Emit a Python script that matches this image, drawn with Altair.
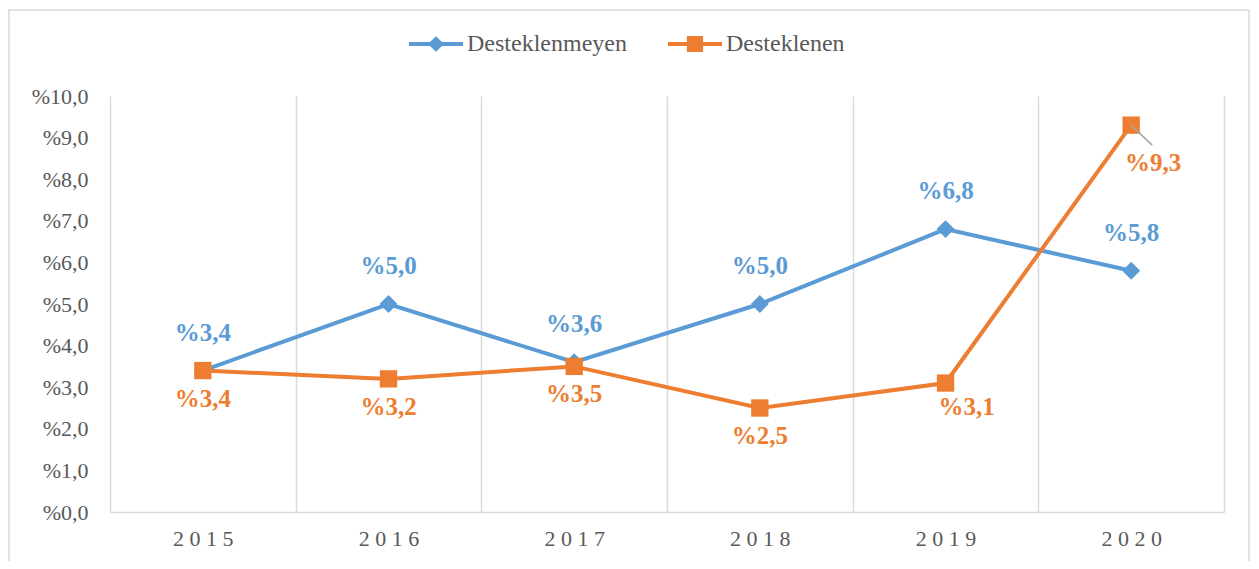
import altair as alt
import pandas as pd

years = ["2015", "2016", "2017", "2018", "2019", "2020"]
desteklenmeyen = [3.4, 5.0, 3.6, 5.0, 6.8, 5.8]
desteklenen = [3.4, 3.2, 3.5, 2.5, 3.1, 9.3]
series_names = ["Desteklenmeyen", "Desteklenen"]
colors = ["#5B9BD5", "#ED7D31"]
y_ticks = [0, 1, 2, 3, 4, 5, 6, 7, 8, 9, 10]

rows = []
for name, vals in zip(series_names, [desteklenmeyen, desteklenen]):
    for yr, v in zip(years, vals):
        rows.append({"year": yr, "value": v, "series": name})
df = pd.DataFrame(rows)

FONT = "Liberation Serif"
GRAY = "#595959"
GRID = "#D9D9D9"

P1 = "M-2.5,-0.18L2.5,-0.18L2.5,0.18L-2.5,0.18Z M0,-0.72L0.75,0L0,0.72L-0.75,0Z"
P2 = "M-2.5,-0.18L2.5,-0.18L2.5,0.18L-2.5,0.18Z M-0.75,-0.75L0.75,-0.75L0.75,0.75L-0.75,0.75Z"

legend_obj = alt.Legend(
    title=None, orient="none", legendX=314, legendY=-64, direction="horizontal",
    symbolSize=467, labelOffset=19, columnPadding=40,
    labelFont=FONT, labelFontSize=24, labelColor=GRAY,
    symbolStrokeWidth=0, symbolOpacity=1,
)

color = alt.Color("series:N", scale=alt.Scale(domain=series_names, range=colors), legend=legend_obj)

x = alt.X("year:O",
          scale=alt.Scale(type="band", paddingInner=0, paddingOuter=0),
          axis=alt.Axis(title=None, tickBand="extent", grid=True, gridColor=GRID, gridWidth=1.5,
                        ticks=False, domainColor=GRID, domainWidth=1.5, labelAngle=0,
                        labelFont=FONT, labelFontSize=22, labelColor=GRAY, labelPadding=16,
                        labelExpr="join(split(datum.label, ''), ' ')"))
y = alt.Y("value:Q",
          scale=alt.Scale(domain=[0, 10], nice=False),
          axis=alt.Axis(title=None, values=y_ticks, grid=False, domain=False, ticks=False,
                        labelExpr="'%' + replace(format(datum.value, '.1f'), '.', ',')",
                        labelPadding=22, labelFont=FONT, labelFontSize=22, labelColor=GRAY))

base = alt.Chart(df).transform_calculate(
    label="'%' + replace(format(datum.value, '.1f'), '.', ',')"
)

frame = alt.Chart(alt.Data(values=[{"a": 1}])).mark_rect(
    filled=False, stroke=GRID, strokeWidth=1.5
).encode(x=alt.value(-101), x2=alt.value(1139), y=alt.value(-86), y2=alt.value(480))

lines = base.mark_line(strokeWidth=4).encode(x=x, y=y, color=color, detail="series:N")
pts_blue = base.transform_filter("datum.series == 'Desteklenmeyen'").mark_point(
    filled=True, size=320, opacity=1, shape="diamond").encode(x=x, y=y, color=color)
pts_orange = base.transform_filter("datum.series == 'Desteklenen'").mark_point(
    filled=True, size=300, opacity=1, shape="square").encode(x=x, y=y, color=color)
legend_layer = base.mark_point(filled=True, opacity=0).encode(
    x=x, y=y, color=color,
    shape=alt.Shape("series:N", scale=alt.Scale(domain=series_names, range=[P1, P2]), legend=legend_obj),
)

leader = base.transform_filter(
    "datum.series == 'Desteklenen' && datum.year == '2020'"
).mark_rule(color="#A6A6A6", strokeWidth=1.5, x2Offset=21, y2Offset=20).encode(
    x=x, y=y, x2="year:O", y2="value:Q"
)

text_kw = dict(font=FONT, fontSize=25, fontWeight="bold", baseline="middle", align="center")

blue_text = base.transform_filter("datum.series == 'Desteklenmeyen'").mark_text(dy=-38, **text_kw).encode(
    x=x, y=y, text="label:N", color=color)
orange_text = base.transform_filter(
    "datum.series == 'Desteklenen' && datum.year != '2020' && datum.year != '2019'"
).mark_text(dy=28, **text_kw).encode(x=x, y=y, text="label:N", color=color)
orange_2019 = base.transform_filter(
    "datum.series == 'Desteklenen' && datum.year == '2019'"
).mark_text(dx=21, dy=24, **text_kw).encode(x=x, y=y, text="label:N", color=color)
orange_2020 = base.transform_filter(
    "datum.series == 'Desteklenen' && datum.year == '2020'"
).mark_text(dx=22, dy=38, **text_kw).encode(x=x, y=y, text="label:N", color=color)

chart = alt.layer(frame, lines, pts_blue, pts_orange, legend_layer, leader,
                  blue_text, orange_text, orange_2019, orange_2020).properties(
    width=1114, height=416,
    autosize=alt.AutoSizeParams(type="none"),
    padding={"left": 102, "top": 88, "right": 27, "bottom": 49},
    background="white",
).configure(font=FONT).configure_view(strokeWidth=0)

chart.save("out.html", embed_options={"renderer": "svg", "actions": False})
